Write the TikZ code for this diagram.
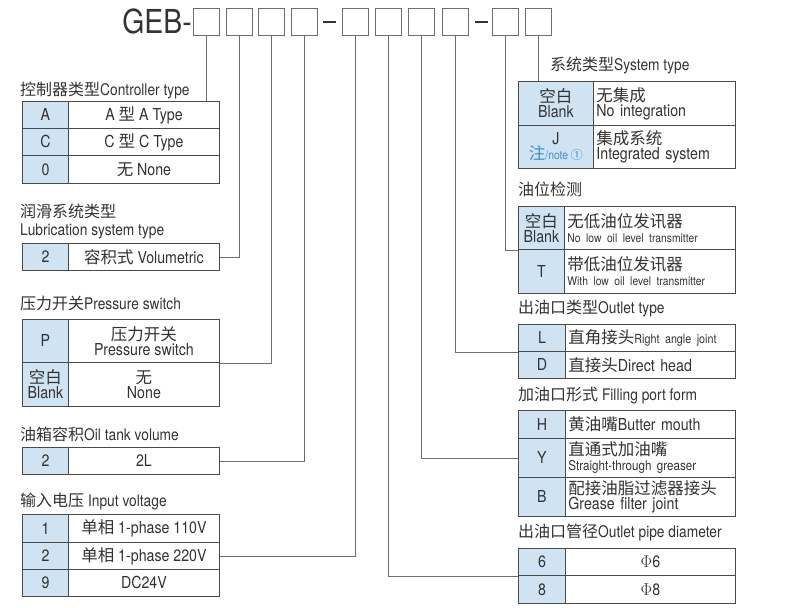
\documentclass[tikz,border=0pt]{standalone}
\usepackage{fontspec}
\setmainfont{TeX Gyre Heros}[FakeStretch=0.86]
\newfontfamily\cjk{Noto Sans CJK SC}
\newcommand\zh[1]{{\cjk #1}}
\definecolor{codeblue}{HTML}{CFE3F3}
\definecolor{bord}{HTML}{4A4A4A}
\definecolor{conn}{HTML}{6E6E6E}
\definecolor{txt}{HTML}{333333}
\definecolor{noteblue}{HTML}{3A8FD0}
\tikzset{
 codec/.style={draw=bord,line width=0.9pt,fill=codeblue,inner sep=0pt,align=center,text=txt,font=\fontsize{16.5}{15}\selectfont},
 descc/.style={draw=bord,line width=0.9pt,fill=white,inner sep=0pt,text=txt,font=\fontsize{16.5}{15}\selectfont},
 ctr/.style={align=center},
 lft/.style={text width=\wt pt,align=left,inner xsep=3pt},
 ttl/.style={anchor=base west,inner sep=0pt,text=txt,font=\fontsize{16}{17}\selectfont},
 hbox/.style={draw=conn,line width=0.9pt,minimum width=26pt,minimum height=27pt,inner sep=0pt},
 link/.style={draw=conn,line width=0.8pt},
}
\newcommand\sm{\fontsize{13.5}{14}\selectfont}
\newcommand\cellpair[9]{%
 \pgfmathsetmacro\wa{#3-#2}\pgfmathsetmacro\wb{#4-#3}\pgfmathsetmacro\hh{#6-#5}\pgfmathsetmacro\wt{#4-#3-6}%
 \node[codec,minimum width=\wa pt,minimum height=\hh pt,anchor=north west] (#1c) at (#2pt,-#5pt) {#7};
 \node[descc,minimum width=\wb pt,minimum height=\hh pt,anchor=north west,#9] (#1d) at (#3pt,-#5pt) {#8};}
\begin{document}
\begin{tikzpicture}
\useasboundingbox[fill=white] (0,0) rectangle (793pt,-608pt);
% header
\node[anchor=base east,inner sep=0pt,text=txt,font=\fontsize{33}{34}\selectfont] (geb) at (192pt,-33pt) {GEB-};
\foreach \n/\x in {1/206,2/239,3/271,4/304,5/355,6/388,7/421,8/455,9/505,10/538}
  \node[hbox] (b\n) at (\x pt,-21.5pt) {};
\coordinate (d1a) at (323pt,-22pt); \coordinate (d1b) at (336pt,-22pt);
\coordinate (d2a) at (475pt,-22pt); \coordinate (d2b) at (488pt,-22pt);
\draw[txt,line width=2pt] (d1a) -- (d1b); \draw[txt,line width=2pt] (d2a) -- (d2b);

% left tables
\node[ttl] (t1) at (20pt,-95pt) {\zh{控制器类型}Controller type};
\cellpair{ca}{22}{68}{219}{101}{128}{A}{A \zh{型} A Type}{ctr}
\cellpair{cc}{22}{68}{219}{128}{155}{C}{C \zh{型} C Type}{ctr}
\cellpair{c0}{22}{68}{219}{155}{183}{0}{\zh{无} None}{ctr}

\node[ttl] (t2) at (20pt,-217pt) {\zh{润滑系统类型}};
\node[ttl] (t2b) at (20pt,-235pt) {Lubrication system type};
\cellpair{lu}{22}{68}{219}{243}{270}{2}{\zh{容积式} Volumetric}{ctr}

\node[ttl] (t3) at (20pt,-309pt) {\zh{压力开关}Pressure switch};
\cellpair{pp}{22}{68}{219}{319}{362}{P}{\zh{压力开关}\\Pressure switch}{ctr}
\cellpair{pb}{22}{68}{219}{362}{406}{\zh{空白}\\Blank}{\zh{无}\\None}{ctr}

\node[ttl] (t4) at (20pt,-440pt) {\zh{油箱容积}Oil tank volume};
\cellpair{ot}{22}{68}{219}{447}{474}{2}{2L}{ctr}

\node[ttl] (t5) at (20pt,-506pt) {\zh{输入电压} Input voltage};
\cellpair{va}{22}{68}{219}{514}{542}{1}{\zh{单相} 1-phase 110V}{ctr}
\cellpair{vb}{22}{68}{219}{542}{569}{2}{\zh{单相} 1-phase 220V}{ctr}
\cellpair{vc}{22}{68}{219}{569}{596}{9}{DC24V}{ctr}

% right tables
\node[ttl] (t6) at (550pt,-70pt) {\zh{系统类型}System type};
\cellpair{sa}{518}{593}{735}{81}{125}{\zh{空白}\\Blank}{\zh{无集成}\\No integration}{lft}
\cellpair{sj}{518}{593}{735}{125}{168}{J\\{\color{noteblue}\zh{注}\fontsize{12}{12}\selectfont/note \zh{①}}}{\zh{集成系统}\\Integrated system}{lft}

\node[ttl] (t7) at (518pt,-195pt) {\zh{油位检测}};
\cellpair{la}{518}{564}{735}{206}{249}{\zh{空白}\\Blank}{\zh{无低油位发讯器}\\{\fontsize{12}{12}\selectfont No low oil level transmitter}}{lft,inner xsep=2pt}
\cellpair{lt}{518}{564}{735}{249}{293}{T}{\zh{带低油位发讯器}\\{\fontsize{12}{12}\selectfont With low oil level transmitter}}{lft,inner xsep=2pt}

\node[ttl] (t8) at (518pt,-313pt) {\zh{出油口类型}Outlet type};
\cellpair{ol}{518}{565}{735}{324}{351}{L}{\zh{直角接头}{\fontsize{12.5}{12}\selectfont Right angle joint}}{lft,inner xsep=2pt}
\cellpair{od}{518}{565}{735}{351}{378}{D}{\zh{直接头}Direct head}{lft,inner xsep=2pt}

\node[ttl] (t9) at (518pt,-400pt) {\zh{加油口形式} Filling port form};
\cellpair{fh}{518}{565}{735}{410}{438}{H}{\zh{黄油嘴}Butter mouth}{lft,inner xsep=2pt}
\cellpair{fy}{518}{565}{735}{438}{477}{Y}{\zh{直通式加油嘴}\\{\sm Straight-through greaser}}{lft,inner xsep=2pt}
\cellpair{fb}{518}{565}{735}{477}{516}{B}{\zh{配接油脂过滤器接头}\\Grease filter joint}{lft,inner xsep=2pt}

\node[ttl] (t10) at (518pt,-537pt) {\zh{出油口管径}Outlet pipe diameter};
\cellpair{pa}{518}{565}{735}{548}{575}{6}{$\Phi$6}{ctr}
\cellpair{pb8}{518}{565}{735}{575}{603}{8}{$\Phi$8}{ctr}

% connectors
\draw[link] (b1.south) -- (b1.south |- cad.north);
\draw[link] (b2.south) |- (lud.east);
\draw[link] (b3.south) |- (ppd.south east);
\draw[link] (b4.south) |- (otd.east);
\draw[link] (b5.south) |- (vbd.east);
\draw[link] (b6.south) |- (pac.south west);
\draw[link] (b7.south) |- (fyc.west);
\draw[link] (b8.south) |- (olc.south west);
\draw[link] (b9.south) |- (lac.south west);
\draw[link] (b10.south) -- (b10.south |- sac.north);
\end{tikzpicture}
\end{document}
